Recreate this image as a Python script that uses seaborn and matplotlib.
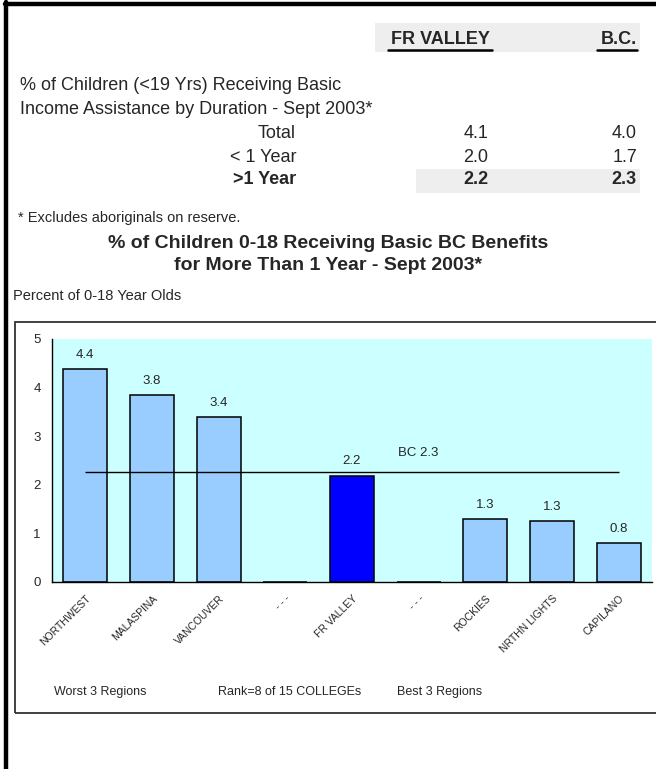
import numpy as np
import pandas as pd
import matplotlib.pyplot as plt
from matplotlib.patches import Rectangle
from matplotlib.lines import Line2D
import seaborn as sns

# table values at the top of the page
table_rows = ['Total', '< 1 Year', '>1 Year']
fr_valley_pct = ['4.1', '2.0', '2.2']
bc_pct = ['4.0', '1.7', '2.3']

# bar chart values
colleges = ['NORTHWEST', 'MALASPINA', 'VANCOUVER', '- - -', 'FR VALLEY',
            '- - - ', 'ROCKIES', 'NRTHN LIGHTS', 'CAPILANO']
pct_over_1yr = [4.38, 3.84, 3.40, 0, 2.19, 0, 1.30, 1.26, 0.81]
group = ['other', 'other', 'other', 'gap', 'FR', 'gap', 'other', 'other', 'other']
bc_level = 2.26
bc_label = 'BC 2.3'
footer_labels = ['Worst 3 Regions', 'Rank=8 of 15 COLLEGEs', 'Best 3 Regions']

W, H = 656, 769


def fx(x):
    return x / W


def fy(y):
    return 1 - y / H


sns.set_style('white')
plt.rcParams['font.family'] = ['Liberation Sans', 'DejaVu Sans']

fig = plt.figure(figsize=(6.56, 7.69), dpi=100)

# outer frame (left and top only)
fig.add_artist(Line2D([fx(6), fx(6)], [fy(2), 0], color='black', lw=3.2))
fig.add_artist(Line2D([fx(5), 1], [fy(4), fy(4)], color='black', lw=3.2))

# shaded header cells
shade = '#eeeeee'
fig.add_artist(Rectangle((fx(375), fy(52)), fx(640) - fx(375), fy(23) - fy(52),
                         facecolor=shade, edgecolor='none'))
fig.add_artist(Rectangle((fx(416), fy(193)), fx(640) - fx(416), fy(169) - fy(193),
                         facecolor=shade, edgecolor='none'))

fig.text(fx(440), fy(40), 'FR VALLEY', ha='center', va='center', fontsize=13, fontweight='bold')
fig.text(fx(637), fy(40), 'B.C.', ha='right', va='center', fontsize=13, fontweight='bold')
fig.add_artist(Line2D([fx(388), fx(492)], [fy(50), fy(50)], color='black', lw=1.8))
fig.add_artist(Line2D([fx(597), fx(637)], [fy(50), fy(50)], color='black', lw=1.8))

fig.text(fx(20), fy(85), '% of Children (<19 Yrs) Receiving Basic', ha='left', va='center', fontsize=13)
fig.text(fx(20), fy(109), 'Income Assistance by Duration - Sept 2003*', ha='left', va='center', fontsize=13)

row_y = [134, 157, 180]
for i, lab in enumerate(table_rows):
    weight = 'bold' if i == 2 else 'normal'
    fig.text(fx(296), fy(row_y[i]), lab, ha='right', va='center', fontsize=13, fontweight=weight)
    fig.text(fx(488), fy(row_y[i]), fr_valley_pct[i], ha='right', va='center', fontsize=13, fontweight=weight)
    fig.text(fx(637), fy(row_y[i]), bc_pct[i], ha='right', va='center', fontsize=13, fontweight=weight)

fig.text(fx(18), fy(218), '* Excludes aboriginals on reserve.', ha='left', va='center', fontsize=10.5)
fig.text(fx(328), fy(243), '% of Children 0-18 Receiving Basic BC Benefits', ha='center', va='center',
         fontsize=14, fontweight='bold')
fig.text(fx(328), fy(266), 'for More Than 1 Year - Sept 2003*', ha='center', va='center',
         fontsize=14, fontweight='bold')
fig.text(fx(13), fy(296), 'Percent of 0-18 Year Olds', ha='left', va='center', fontsize=10.5)

# chart box
fig.add_artist(Rectangle((fx(15), fy(713)), fx(700) - fx(15), fy(322) - fy(713),
                         facecolor='none', edgecolor='#333333', lw=1.3))

ax = fig.add_axes([fx(52), fy(582), fx(652) - fx(52), fy(339) - fy(582)])
df = pd.DataFrame({'college': colleges, 'pct': pct_over_1yr, 'group': group})
sns.barplot(data=df, x='college', y='pct', hue='group', order=colleges,
            palette={'other': '#99CCFF', 'FR': '#0000FF', 'gap': '#99CCFF'},
            saturation=1, dodge=False, width=0.66, edgecolor='black', linewidth=1.1,
            legend=False, ax=ax)
ax.set_facecolor('#CCFFFF')
ax.set_xlim(-0.5, len(colleges) - 0.5)
ax.set_ylim(0, 5)
ax.set_xlabel('')
ax.set_ylabel('')

for i, v in enumerate(pct_over_1yr):
    if v > 0:
        ax.text(i, v + 0.29, f'{v:.1f}', ha='center', va='center', fontsize=9.5)

ax.hlines(bc_level, 0, len(colleges) - 1, color='black', lw=1)
ax.text(5, bc_level + 0.4, bc_label, ha='center', va='center', fontsize=9.5)

ax.set_xticks(np.arange(-0.5, len(colleges), 1))
ax.set_xticklabels([])
ax.set_xticks(range(len(colleges)), minor=True)
ax.set_xticklabels([c.strip() for c in colleges], minor=True, rotation=45,
                   ha='right', rotation_mode='anchor', fontsize=7.5)
ax.tick_params(axis='x', which='major', direction='inout', length=8, width=1, color='black')
ax.tick_params(axis='x', which='minor', length=0, pad=8)
ax.set_yticks(range(6))
ax.tick_params(axis='y', direction='inout', length=8, width=1, color='black', labelsize=9.5, pad=4)

for s in ['top', 'right']:
    ax.spines[s].set_visible(False)
for s in ['left', 'bottom']:
    ax.spines[s].set_color('black')
    ax.spines[s].set_linewidth(1)

footer_x = [100, 290, 440]
for x, lab in zip(footer_x, footer_labels):
    fig.text(fx(x), fy(692), lab, ha='center', va='center', fontsize=9)

fig.savefig('out.png', dpi=100)
